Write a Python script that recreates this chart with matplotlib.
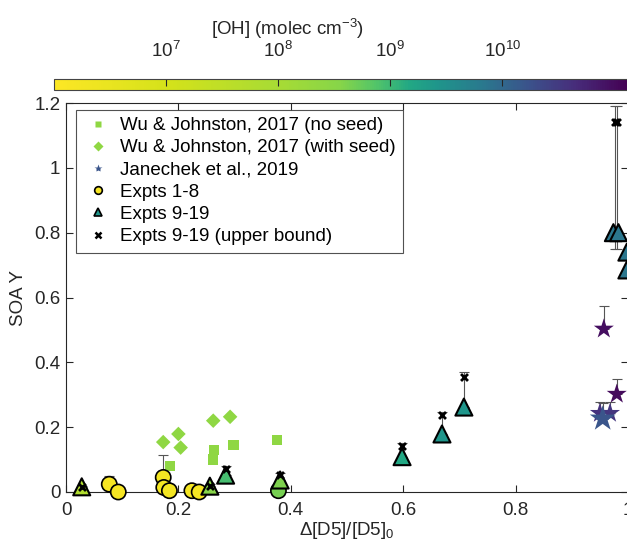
"""SOA yield vs fraction of D5 reacted, coloured by [OH]."""

import matplotlib

matplotlib.use("Agg")
import matplotlib.pyplot as plt
from matplotlib.colors import LinearSegmentedColormap, LogNorm
from matplotlib.cm import ScalarMappable
from matplotlib.lines import Line2D
from matplotlib.ticker import NullLocator

plt.rcParams["font.family"] = ["Liberation Sans", "DejaVu Sans"]
plt.rcParams["mathtext.fontset"] = "custom"
plt.rcParams["mathtext.rm"] = "Liberation Sans"
plt.rcParams["mathtext.it"] = "Liberation Sans:italic"
plt.rcParams["mathtext.default"] = "regular"

# Wu & Johnston, 2017 (no seed)
wu_noseed_x = [0.185, 0.262, 0.263, 0.298, 0.376]
wu_noseed_y = [0.081, 0.100, 0.130, 0.145, 0.160]
wu_noseed_oh = [2.6e8, 2.6e8, 2.6e8, 2.6e8, 2.6e8]

# Wu & Johnston, 2017 (with seed)
wu_seed_x = [0.173, 0.200, 0.204, 0.262, 0.292]
wu_seed_y = [0.154, 0.179, 0.137, 0.220, 0.232]
wu_seed_oh = [2.6e8, 2.6e8, 2.6e8, 2.6e8, 2.6e8]

# Janechek et al., 2019
jan_x = [0.957, 0.980, 0.950, 0.968, 0.955]
jan_y = [0.503, 0.302, 0.243, 0.243, 0.226]
jan_err = [0.072, 0.046, 0.034, 0.034, 0.050]
jan_oh = [9.0e10, 1.0e11, 4.0e10, 3.5e10, 1.6e10]

# Expts 1-8
e18_x = [0.077, 0.093, 0.173, 0.174, 0.184, 0.224, 0.237, 0.378]
e18_y = [0.024, 0.000, 0.045, 0.014, 0.004, 0.004, 0.000, 0.004]
e18_err = [0.026, 0.0, 0.068, 0.0, 0.0, 0.0, 0.0, 0.0]
e18_oh = [1.5e6, 1.5e6, 1.7e6, 1.7e6, 1.7e6, 1.6e6, 1.6e6, 4.5e8]

# Expts 9-19
e919_x = [0.028, 0.256, 0.284, 0.381, 0.598, 0.669, 0.708, 0.974, 0.983, 0.998, 0.998]
e919_y = [0.016, 0.018, 0.052, 0.037, 0.109, 0.179, 0.262, 0.800, 0.800, 0.740, 0.685]
e919_oh = [6e7, 3.6e8, 9e8, 4e8, 1.5e9, 2.5e9, 2.5e9, 7e9, 7e9, 7e9, 7e9]

# Expts 9-19 (upper bound)
ub_x = [0.028, 0.256, 0.284, 0.381, 0.598, 0.669, 0.708, 0.976, 0.981]
ub_y = [0.015, 0.020, 0.072, 0.052, 0.142, 0.238, 0.356, 1.140, 1.140]
ub_lo = [0.0, 0.0, 0.02, 0.015, 0.033, 0.059, 0.094, 0.390, 0.390]
ub_hi = [0.004, 0.004, 0.008, 0.006, 0.008, 0.010, 0.014, 0.050, 0.050]

OH_RANGE = (1e6, 1.3e11)
OH_TICKS = [1e7, 1e8, 1e9, 1e10]

CMAP = LinearSegmentedColormap.from_list(
    "oh",
    [
        (0.00, "#fde725"),
        (0.20, "#d4e21a"),
        (0.40, "#a5db36"),
        (0.50, "#86d549"),
        (0.56, "#54c568"),
        (0.62, "#22a884"),
        (0.67, "#1f958b"),
        (0.75, "#2a788e"),
        (0.83, "#3b528b"),
        (0.91, "#472d7b"),
        (1.00, "#440154"),
    ],
)
NORM = LogNorm(*OH_RANGE)
ERR_COLOR = "#555555"
TEXT_COLOR = "#262626"
FS = 13.5


def add_errorbars(ax, x, y, lo, hi):
    ax.errorbar(x, y, yerr=[lo, hi], fmt="none", ecolor=ERR_COLOR, elinewidth=0.8,
                capsize=3.5, capthick=0.8, zorder=2, clip_on=False)


def main():
    fig = plt.figure(figsize=(6.27, 5.46), dpi=100)
    ax = fig.add_axes([66 / 627, 54 / 546, 562 / 627, 389 / 546])

    add_errorbars(ax, e18_x, e18_y, [0] * len(e18_err), e18_err)
    add_errorbars(ax, jan_x, jan_y, [0] * len(jan_err), jan_err)
    add_errorbars(ax, ub_x, ub_y, ub_lo, ub_hi)

    common = dict(cmap=CMAP, norm=NORM, clip_on=False)
    ax.scatter(wu_noseed_x, wu_noseed_y, c=wu_noseed_oh, marker="s", s=55, linewidths=0, zorder=3, **common)
    ax.scatter(wu_seed_x, wu_seed_y, c=wu_seed_oh, marker="D", s=55, linewidths=0, zorder=3, **common)
    ax.scatter(jan_x, jan_y, c=jan_oh, marker="*", s=[230, 230, 230, 230, 380], linewidths=0, zorder=3, **common)
    ax.scatter(e18_x, e18_y, c=e18_oh, marker="o", s=120, edgecolors="black", linewidths=1.2, zorder=4, **common)
    ax.scatter(e919_x, e919_y, c=e919_oh, marker="^", s=150, edgecolors="black", linewidths=1.5, zorder=4, **common)
    ax.scatter(ub_x, ub_y, c="black", marker="x", s=25, linewidths=2, zorder=5, clip_on=False)

    ax.set_xlim(0, 1)
    ax.set_ylim(0, 1.2)
    ax.set_xticks([0, 0.2, 0.4, 0.6, 0.8, 1])
    ax.set_xticklabels(["0", "0.2", "0.4", "0.6", "0.8", "1"])
    ax.set_yticks([0, 0.2, 0.4, 0.6, 0.8, 1, 1.2])
    ax.set_yticklabels(["0", "0.2", "0.4", "0.6", "0.8", "1", "1.2"])
    ax.tick_params(direction="in", top=True, right=True, length=5, width=0.8,
                   labelsize=FS, colors=TEXT_COLOR, pad=4)
    ax.tick_params(axis="x", pad=7)
    for spine in ax.spines.values():
        spine.set_color(TEXT_COLOR)
        spine.set_linewidth(0.8)
    ax.set_xlabel("Δ[D5]/[D5]$_0$", fontsize=FS, color=TEXT_COLOR, labelpad=1)
    ax.set_ylabel("SOA Y", fontsize=FS, color=TEXT_COLOR, labelpad=5)

    handles = [
        Line2D([], [], ls="none", marker="s", ms=5, mec="none", mfc=CMAP(NORM(2.6e8))),
        Line2D([], [], ls="none", marker="D", ms=5, mec="none", mfc=CMAP(NORM(2.6e8))),
        Line2D([], [], ls="none", marker="*", ms=6, mec="none", mfc=CMAP(NORM(1.6e10))),
        Line2D([], [], ls="none", marker="o", ms=5.5, mec="black", mew=1.2, mfc=CMAP(NORM(1.5e6))),
        Line2D([], [], ls="none", marker="^", ms=6, mec="black", mew=1.2, mfc=CMAP(NORM(2.5e9))),
        Line2D([], [], ls="none", marker="x", ms=4.5, mew=1.8, color="black"),
    ]
    labels = [
        "Wu & Johnston, 2017 (no seed)",
        "Wu & Johnston, 2017 (with seed)",
        "Janechek et al., 2019",
        "Expts 1-8",
        "Expts 9-19",
        "Expts 9-19 (upper bound)",
    ]
    leg = ax.legend(handles, labels, loc="upper left", bbox_to_anchor=(0.018, 0.983),
                    fontsize=FS, frameon=True, fancybox=False, borderpad=0.4,
                    labelspacing=0.27, handletextpad=0.45, handlelength=1.5, borderaxespad=0)
    leg.get_frame().set_edgecolor(TEXT_COLOR)
    leg.get_frame().set_linewidth(0.8)
    leg.set_zorder(10)

    cax = fig.add_axes([54 / 627, 456 / 546, 573 / 627, 11 / 546])
    cb = fig.colorbar(ScalarMappable(norm=NORM, cmap=CMAP), cax=cax, orientation="horizontal")
    cb.set_ticks(OH_TICKS)
    cax.xaxis.set_minor_locator(NullLocator())
    cax.xaxis.set_ticks_position("top")
    cax.xaxis.set_label_position("top")
    cax.tick_params(direction="in", length=5, width=0.8, labelsize=FS, colors=TEXT_COLOR, pad=13)
    cb.outline.set_edgecolor("#444444")
    cb.outline.set_linewidth(0.8)
    fig.text(287 / 627, 1 - 29 / 546, "[OH] (molec cm$^{-3}$)", ha="center", va="center",
             fontsize=FS, color=TEXT_COLOR)

    fig.savefig("out.png", dpi=100)
    plt.close(fig)


if __name__ == "__main__":
    main()
